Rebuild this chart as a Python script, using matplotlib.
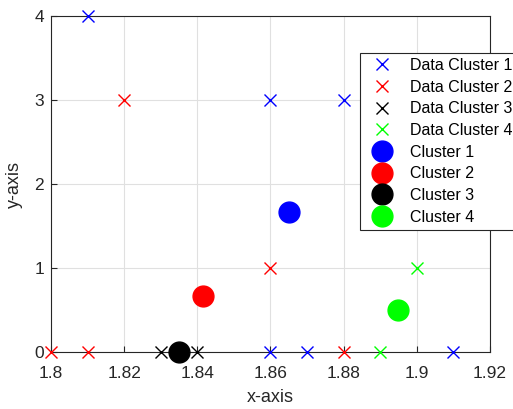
import matplotlib.pyplot as plt

plt.rcParams['font.family'] = ['Liberation Sans', 'DejaVu Sans']

# data points per cluster
c1_x = [1.81, 1.86, 1.88, 1.86, 1.87, 1.91]
c1_y = [4, 3, 3, 0, 0, 0]
c2_x = [1.80, 1.81, 1.82, 1.86, 1.88]
c2_y = [0, 0, 3, 1, 0]
c3_x = [1.83, 1.84]
c3_y = [0, 0]
c4_x = [1.89, 1.90]
c4_y = [0, 1]

# centroids
cent_x = [1.865, 1.8415, 1.835, 1.895]
cent_y = [1.667, 0.667, 0.0, 0.5]

colors = ['#0000ff', '#ff0000', '#000000', '#00ff00']

fig = plt.figure(figsize=(5.13, 4.09), dpi=100)
ax = fig.add_axes([0.0994, 0.139, 0.8556, 0.822])

for i, (xs, ys) in enumerate([(c1_x, c1_y), (c2_x, c2_y), (c3_x, c3_y), (c4_x, c4_y)]):
    ax.plot(xs, ys, 'x', color=colors[i], markersize=8, markeredgewidth=1.0,
            label='Data Cluster %d' % (i + 1), clip_on=False, zorder=3)
for i in range(4):
    ax.plot(cent_x[i], cent_y[i], 'o', color=colors[i], markersize=15,
            label='Cluster %d' % (i + 1), clip_on=False, zorder=4)

ax.set_xlim(1.8, 1.92)
ax.set_ylim(0, 4)
ax.set_xticks([1.8, 1.82, 1.84, 1.86, 1.88, 1.9, 1.92])
ax.set_xticklabels(['1.8', '1.82', '1.84', '1.86', '1.88', '1.9', '1.92'])
ax.set_yticks([0, 1, 2, 3, 4])
ax.grid(True, color='#e0e0e0', linewidth=0.8)
ax.set_axisbelow(True)
for s in ax.spines.values():
    s.set_color('#262626')
    s.set_linewidth(0.8)
ax.tick_params(direction='in', length=4, color='#262626', labelsize=12.5,
               labelcolor='#262626', top=False, right=False)
ax.tick_params(axis='x', pad=10)
ax.tick_params(axis='y', pad=5)
ax.set_xlabel('x-axis', fontsize=13, color='#262626', labelpad=6)
ax.set_ylabel('y-axis', fontsize=13, color='#262626', labelpad=8)

leg = fig.legend(loc='upper left', bbox_to_anchor=(360 / 513, 1 - 53 / 409),
                 fontsize=11.5, frameon=True, fancybox=False, edgecolor='#262626',
                 framealpha=1, borderpad=0.3, labelspacing=0.42, handletextpad=0.6,
                 handlelength=2.2, borderaxespad=0)
leg.get_frame().set_linewidth(0.8)

fig.savefig('out.png', dpi=100)
